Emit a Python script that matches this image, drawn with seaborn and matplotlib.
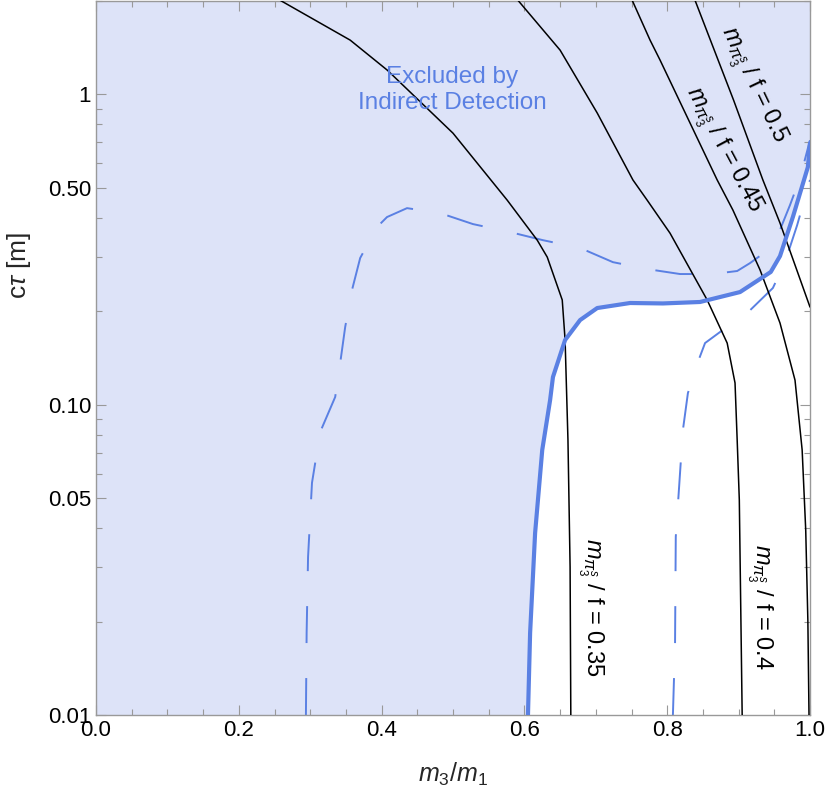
import numpy as np
import pandas as pd
import seaborn as sns
from matplotlib import pyplot as plt
from matplotlib.ticker import FixedLocator, NullFormatter, MultipleLocator

######curve data (x = m3/m1, y = c tau in m)
y_top = 2.0

# thick boundary of the excluded region
bound_x = [0.605, 0.608, 0.615, 0.625, 0.636, 0.640, 0.657, 0.678, 0.702, 0.748, 0.794, 0.846, 0.902, 0.945, 0.958, 0.976, 0.997, 1.0]
bound_y = [0.01, 0.0184, 0.0386, 0.0715, 0.1035, 0.1228, 0.1616, 0.1874, 0.2049, 0.2127, 0.2120, 0.2143, 0.2307, 0.2677, 0.3013, 0.4025, 0.583, 0.697]

# dashed curves
dash1_x = [0.294, 0.295, 0.297, 0.3025, 0.314, 0.335, 0.342, 0.349, 0.3585, 0.370, 0.3936, 0.4076, 0.4356, 0.4818, 0.528, 0.580, 0.626, 0.678, 0.724, 0.772, 0.818, 0.864, 0.898, 0.916, 0.937, 0.955, 0.972, 0.986, 1.0]
dash1_y = [0.01, 0.0184, 0.0323, 0.0560, 0.0817, 0.1059, 0.1362, 0.178, 0.234, 0.297, 0.3737, 0.4025, 0.430, 0.4146, 0.382, 0.360, 0.339, 0.320, 0.288, 0.2736, 0.2637, 0.2637, 0.2697, 0.286, 0.310, 0.352, 0.440, 0.537, 0.712]
dash2_x = [0.808, 0.811, 0.812, 0.822, 0.829, 0.843, 0.853, 0.874, 0.912, 0.948, 0.965, 0.982, 1.0]
dash2_y = [0.01, 0.0171, 0.0375, 0.0829, 0.109, 0.1373, 0.158, 0.1715, 0.1974, 0.2377, 0.288, 0.379, 0.530]

# black contours of m/f
c035_x = [0.258, 0.356, 0.408, 0.500, 0.576, 0.618, 0.632, 0.653, 0.657, 0.661, 0.664, 0.665]
c035_y = [2.01, 1.496, 1.197, 0.750, 0.456, 0.339, 0.299, 0.2175, 0.1616, 0.0770, 0.030, 0.01]
c040_x = [0.591, 0.650, 0.702, 0.752, 0.772, 0.804, 0.856, 0.884, 0.895, 0.898, 0.901, 0.905]
c040_y = [2.01, 1.389, 0.871, 0.530, 0.456, 0.357, 0.2175, 0.158, 0.1175, 0.077, 0.0493, 0.01]
c045_x = [0.751, 0.776, 0.790, 0.870, 0.892, 0.930, 0.958, 0.979, 0.989, 0.994, 0.997, 0.9986]
c045_y = [2.01, 1.496, 1.290, 0.530, 0.424, 0.272, 0.1833, 0.120, 0.0715, 0.0395, 0.0202, 0.01]
c050_x = [0.839, 0.893, 0.934, 0.958, 0.979, 1.0]
c050_y = [2.01, 0.958, 0.530, 0.385, 0.282, 0.2064]

contour_vals = ["0.35", "0.4", "0.45", "0.5"]
label_x = [0.693, 0.930, 0.878, 0.919]
label_y = [0.0223, 0.0223, 0.6615, 1.071]
label_rot = [-90, -90, -62, -64.5]

yticks = [0.01, 0.05, 0.10, 0.50, 1]
ytick_labels = ["0.01", "0.05", "0.10", "0.50", "1"]
xticks = [0.0, 0.2, 0.4, 0.6, 0.8, 1.0]

blue = "#5a80e3"
fill_col = "#dde3f8"

sns.set_theme(style="ticks")
plt.rcParams['font.family'] = ['Liberation Sans', 'DejaVu Sans']
plt.rcParams['mathtext.fontset'] = 'custom'
plt.rcParams['mathtext.rm'] = 'Liberation Sans'
plt.rcParams['mathtext.it'] = 'Liberation Sans:italic'

fig = plt.figure(figsize=(8.3, 7.91), dpi=100)
ax = fig.add_axes([96/830, 1 - 715/791, 714/830, 714/791])
ax.set_yscale('log')

# shaded excluded region
ax.fill_between([0.0] + bound_x, [0.01] + bound_y, y_top, color=fill_col, lw=0, zorder=0)

for cx, cy in [(c035_x, c035_y), (c040_x, c040_y), (c045_x, c045_y), (c050_x, c050_y)]:
    sns.lineplot(x=cx, y=cy, sort=False, estimator=None, color="black", lw=1.1, ax=ax, zorder=3)

for dx, dy in [(dash1_x, dash1_y), (dash2_x, dash2_y)]:
    sns.lineplot(x=dx, y=dy, sort=False, estimator=None, color=blue, lw=1.4,
                 linestyle=(0, (19, 18)), ax=ax, zorder=2)

sns.lineplot(x=bound_x, y=bound_y, sort=False, estimator=None, color=blue, lw=3.0, ax=ax, zorder=4)

for val, tx, ty, rot in zip(contour_vals, label_x, label_y, label_rot):
    ax.text(tx, ty, r"$m_{\pi_3^s}$ / f = " + val, rotation=rot, rotation_mode='anchor',
            ha='center', va='center', fontsize=17, color='black', zorder=5)

ax.text(0.4986, 1.032, "Excluded by\nIndirect Detection", ha='center', va='center',
        fontsize=17.5, color=blue, linespacing=1.25, zorder=5)

ax.set_xlim(0, 1)
ax.set_ylim(0.01, y_top)
ax.set_xticks(xticks)
ax.set_xticklabels(["%.1f" % t for t in xticks])
ax.xaxis.set_minor_locator(MultipleLocator(0.05))
ax.yaxis.set_major_locator(FixedLocator(yticks))
ax.set_yticklabels(ytick_labels)
minor_y = [k * 10.0**e for e in (-2, -1, 0) for k in range(2, 10) if k * 10.0**e < y_top + 1e-9]
ax.yaxis.set_minor_locator(FixedLocator(minor_y))
ax.yaxis.set_minor_formatter(NullFormatter())
ax.tick_params(which='both', direction='in', top=True, right=True, color='#999999',
               labelsize=16, labelcolor='black', width=0.8)
ax.tick_params(which='major', length=7)
ax.tick_params(which='minor', length=4)
for s in ax.spines.values():
    s.set_color('#999999')
    s.set_linewidth(1.0)

ax.set_xlabel(r"$m_3/m_1$", fontsize=18, labelpad=14)
ax.set_ylabel(r"c$\tau$ [m]", fontsize=19)
ax.yaxis.set_label_coords(-0.088, 0.63)

plt.savefig("out.png", dpi=100)
